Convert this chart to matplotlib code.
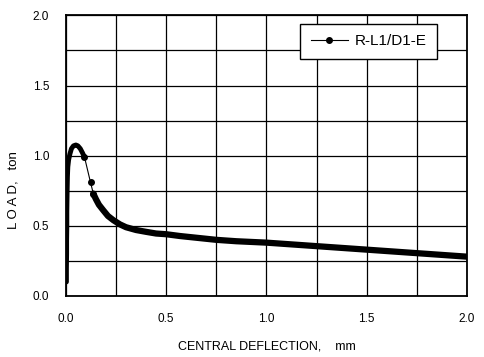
import matplotlib
matplotlib.use("Agg")
import matplotlib.pyplot as plt

# values (mm, ton)
defl = [0.003, 0.003, 0.004, 0.004, 0.005, 0.005, 0.006, 0.007, 0.008, 0.010,
        0.014, 0.020, 0.028, 0.038, 0.050, 0.060, 0.072, 0.083, 0.093,
        0.123, 0.137,
        0.150, 0.165, 0.187, 0.210, 0.237, 0.27, 0.30, 0.35, 0.40, 0.45,
        0.50, 0.57, 0.65, 0.75, 0.85, 1.00, 1.10, 1.25, 1.40, 1.50, 1.60,
        1.75, 1.90, 2.00]
load = [0.10, 0.20, 0.30, 0.40, 0.50, 0.60, 0.70, 0.78, 0.85, 0.92,
        0.97, 1.01, 1.05, 1.07, 1.076, 1.07, 1.05, 1.02, 0.99,
        0.81, 0.73,
        0.69, 0.65, 0.61, 0.57, 0.54, 0.51, 0.49, 0.47, 0.457, 0.445,
        0.44, 0.427, 0.415, 0.40, 0.39, 0.38, 0.37, 0.355, 0.34, 0.33, 0.32,
        0.305, 0.29, 0.28]
rise_end = 19    # dense rising part
decay_start = 20  # dense decaying part

xticks = [0.0, 0.5, 1.0, 1.5, 2.0]
yticks = [0.0, 0.5, 1.0, 1.5, 2.0]

plt.rcParams['font.family'] = ['Liberation Sans', 'DejaVu Sans']

fig = plt.figure(figsize=(4.84, 3.57), dpi=100)
ax = fig.add_axes([0.136, 0.171, 0.829, 0.786])

line, = ax.plot(defl, load, color='black', lw=0.8, marker='o', ms=4,
                markevery=slice(rise_end - 1, decay_start + 1))
ax.plot(defl[:rise_end], load[:rise_end], color='black', lw=3.5,
        solid_capstyle='round', solid_joinstyle='round')
ax.plot(defl[decay_start:], load[decay_start:], color='black', lw=4.5,
        solid_capstyle='round', solid_joinstyle='round')

ax.set_xlim(0, 2)
ax.set_ylim(0, 2)
ax.set_xticks([i * 0.25 for i in range(9)], minor=True)
ax.set_yticks([i * 0.25 for i in range(9)], minor=True)
ax.set_xticks(xticks)
ax.set_yticks(yticks)
ax.set_xticklabels(['%.1f' % v for v in xticks])
ax.set_yticklabels(['%.1f' % v for v in yticks])
ax.grid(True, which='both', color='black', lw=0.9)
ax.tick_params(which='both', length=0, labelsize=8.5)
ax.tick_params(axis='x', pad=12)
ax.tick_params(axis='y', pad=12)
for s in ax.spines.values():
    s.set_linewidth(1.3)

ax.set_xlabel('CENTRAL DEFLECTION,    mm', fontsize=9)
ax.xaxis.set_label_coords(0.5, -0.16)
ax.set_ylabel('L O A D,   ton', fontsize=9.5)
ax.yaxis.set_label_coords(-0.115, 0.378)

leg = ax.legend([line], ['R-L1/D1-E'], loc='upper right',
                bbox_to_anchor=(0.925, 0.97), borderaxespad=0,
                fancybox=False, edgecolor='black', framealpha=1,
                fontsize=11, handlelength=2.4, handletextpad=0.45,
                borderpad=0.7)
leg.get_frame().set_linewidth(1.0)

fig.savefig('out.png', dpi=100)
